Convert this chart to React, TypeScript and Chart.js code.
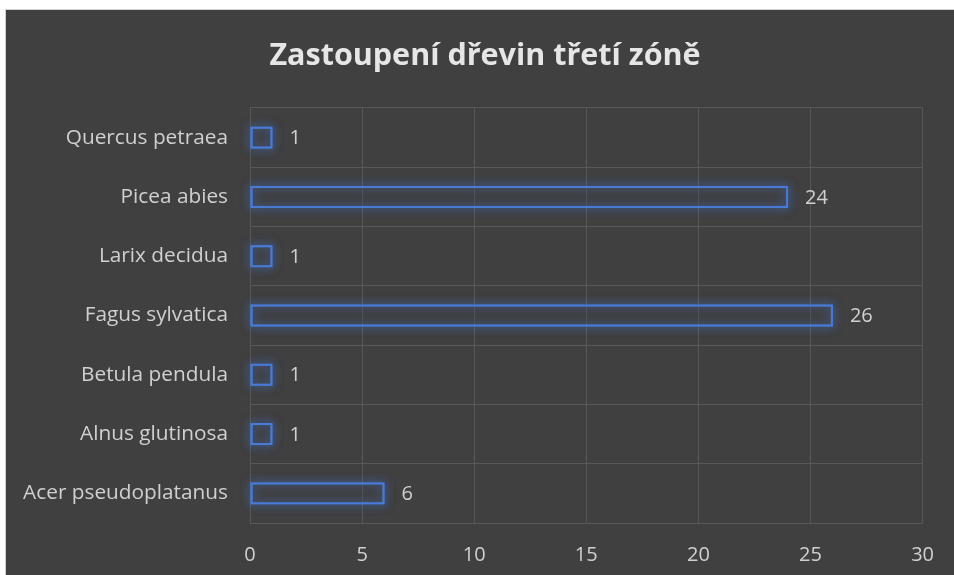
import React, { useEffect, useRef } from "react";
import { Chart, registerables } from "chart.js";

Chart.register(...registerables);

const categories = [
  "Acer pseudoplatanus",
  "Alnus glutinosa",
  "Betula pendula",
  "Fagus sylvatica",
  "Larix decidua",
  "Picea abies",
  "Quercus petraea",
];
const counts = [6, 1, 1, 26, 1, 24, 1];
const titleText = "Zastoupení dřevin třetí zóně";
const xMin = 0;
const xMax = 30;
const xStep = 5;

const FONT = "'Open Sans', 'Noto Sans', sans-serif";

export default function App() {
  const ref = useRef<HTMLCanvasElement | null>(null);

  useEffect(() => {
    document.body.style.margin = "0";
    document.body.style.background = "#ffffff";
    const canvas = ref.current;
    if (!canvas) return;

    const glowPlugin = {
      id: "glow",
      beforeDatasetsDraw(chart: any) {
        const ctx = chart.ctx;
        const meta = chart.getDatasetMeta(0);
        ctx.save();
        ctx.strokeStyle = "rgba(70,120,210,0.7)";
        ctx.lineWidth = 2;
        ctx.shadowColor = "rgba(70,120,215,1)";
        ctx.shadowBlur = 10;
        ctx.shadowOffsetX = 0;
        ctx.shadowOffsetY = 0;
        meta.data.forEach((el: any) => {
          const p = el.getProps(["x", "y", "base", "height"], true);
          const left = Math.min(p.x, p.base);
          const w = Math.abs(p.x - p.base);
          for (let k = 0; k < 2; k++) {
            ctx.strokeRect(left + 1, p.y - p.height / 2 + 1, w - 2, p.height - 2);
          }
        });
        ctx.restore();
      },
    };

    const labelPlugin = {
      id: "labels",
      afterDatasetsDraw(chart: any) {
        const ctx = chart.ctx;
        const meta = chart.getDatasetMeta(0);
        ctx.save();
        ctx.font = `20px ${FONT}`;
        ctx.fillStyle = "#d0d0d0";
        ctx.textAlign = "left";
        ctx.textBaseline = "middle";
        meta.data.forEach((el: any, i: number) => {
          ctx.fillText(String(counts[i]), el.x + 17, el.y + 1);
        });
        ctx.restore();
      },
    };

    const titlePlugin = {
      id: "mytitle",
      afterDraw(chart: any) {
        const ctx = chart.ctx;
        ctx.save();
        ctx.font = `bold 30.5px ${FONT}`;
        ctx.fillStyle = "#e6e6e6";
        ctx.textAlign = "center";
        ctx.textBaseline = "alphabetic";
        ctx.fillText(titleText, 479, 55);
        ctx.restore();
      },
    };

    const bgPlugin = {
      id: "bg",
      beforeDraw(chart: any) {
        const ctx = chart.ctx;
        ctx.save();
        ctx.fillStyle = "#404040";
        ctx.fillRect(0, 0, chart.width, chart.height);
        ctx.restore();
      },
    };

    const chart = new Chart(canvas, {
      type: "bar",
      data: {
        labels: categories,
        datasets: [
          {
            data: counts,
            backgroundColor: "rgba(64,64,64,0.25)",
            borderColor: "#4a7bd4",
            borderWidth: 2,
            borderSkipped: false,
            barPercentage: 0.37,
            categoryPercentage: 1,
          },
        ],
      },
      options: {
        indexAxis: "y",
        animation: false,
        responsive: false,
        devicePixelRatio: 1,
        layout: { padding: { top: 98, right: 30, left: 0, bottom: 0 } },
        plugins: {
          legend: { display: false },
          title: { display: false },
          tooltip: { enabled: false },
        },
        scales: {
          x: {
            min: xMin,
            max: xMax,
            ticks: {
              stepSize: xStep,
              color: "#d0d0d0",
              font: { family: FONT, size: 20 },
              padding: 20,
            },
            grid: { color: "#585858", lineWidth: 1, drawTicks: false },
            border: { display: false },
            afterFit(scale: any) {
              scale.height = 52;
            },
          },
          y: {
            reverse: true,
            ticks: {
              color: "#d0d0d0",
              font: { family: FONT, size: 20.8 },
              padding: 22,
            },
            grid: { color: "#585858", lineWidth: 1, drawTicks: false, offset: true },
            border: { display: false },
            afterFit(scale: any) {
              scale.width = 244;
            },
          },
        },
      },
      plugins: [bgPlugin, glowPlugin, labelPlugin, titlePlugin],
    });

    return () => chart.destroy();
  }, []);

  return (
    <div style={{ position: "relative", width: 954, height: 575, background: "#fff", overflow: "hidden" }}>
      <div
        style={{
          position: "absolute",
          left: 5,
          top: 9,
          width: 950,
          height: 567,
          border: "1px solid #d0d0d0",
          background: "#404040",
        }}
      >
        <canvas ref={ref} width={948} height={565} style={{ display: "block", width: 948, height: 565 }} />
      </div>
    </div>
  );
}
